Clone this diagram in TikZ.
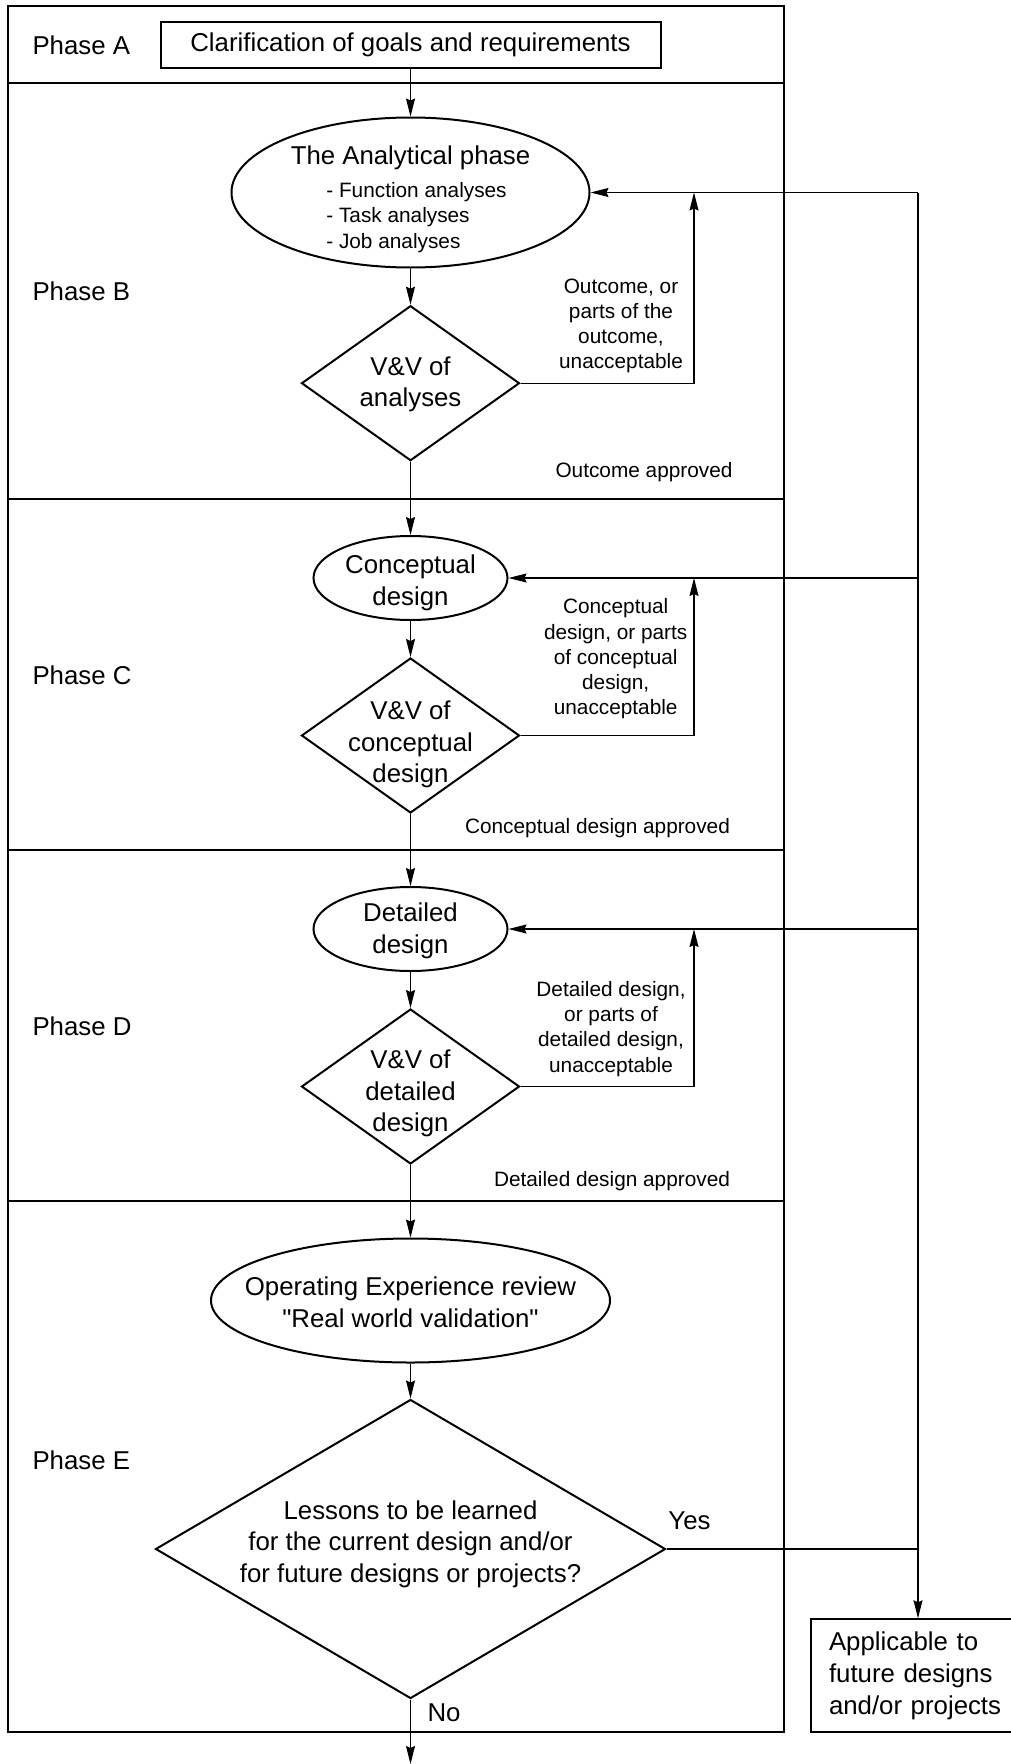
\documentclass[tikz,border=0pt]{standalone}
\usepackage{fontspec}
\setmainfont{Liberation Sans}[Ligatures=TeXOff]
\usepackage{tikz}
\usetikzlibrary{positioning,arrows.meta,shapes.geometric,calc}
\newcommand{\bigsz}{\fontsize{25.8}{31.6}\selectfont}
\newcommand{\smallsz}{\fontsize{20.8}{25.2}\selectfont}
\tikzset{pbox/.style={rectangle, draw, line width=2pt, inner sep=0pt, align=center, font=\bigsz}}
\tikzset{pell/.style={ellipse, draw, line width=2pt, inner sep=0pt}}
\tikzset{pdia/.style={diamond, draw, line width=2pt, inner sep=0pt}}
\tikzset{ptext/.style={font=\bigsz, align=center, inner sep=0pt}}
\tikzset{plabel/.style={font=\smallsz, align=center, inner sep=0pt}}
\tikzset{pphase/.style={font=\bigsz, anchor=west, inner sep=0pt}}
\tikzset{pedge/.style={-{Stealth[length=18pt, width=9pt, inset=2pt]}, line width=1.2pt}}
\tikzset{pline/.style={line width=1.2pt}}
\tikzset{pframe/.style={line width=2pt}}

\begin{document}
\begin{tikzpicture}[x=1pt, y=-1pt]
  \useasboundingbox (0,0) rectangle (1011,1764);

  % phase bands
  \draw[pframe] (8.4,6) rectangle (784,1732);
  \draw[pframe] (8.4,82.7) -- (784,82.7);
  \draw[pframe] (8.4,498.5) -- (784,498.5);
  \draw[pframe] (8.4,850.2) -- (784,850.2);
  \draw[pframe] (8.4,1200.5) -- (784,1200.5);

  \node[pphase] (phaseA) at (32.3,45) {Phase A};
  \node[pphase] (phaseB) at (32.3,291.7) {Phase B};
  \node[pphase] (phaseC) at (32.3,675.2) {Phase C};
  \node[pphase] (phaseD) at (32.3,1026.6) {Phase D};
  \node[pphase] (phaseE) at (32.3,1460) {Phase E};

  \node[pbox, minimum width=500pt, minimum height=45.7pt] (goal) at (410.5,44.8) {Clarification of goals and requirements};
  \node[pell, minimum width=358pt, minimum height=150pt,
        label={[ptext, yshift=35pt]center:The Analytical phase},
        label={[plabel, align=left, xshift=6pt, yshift=-25pt]center:- Function analyses\\- Task analyses\\- Job analyses}] (anal) at (410.5,192.5) {};
  \node[pdia, minimum width=218pt, minimum height=155pt, label={[ptext, yshift=-1pt]center:V\&V of\\analyses}] (vvB) at (410.5,383.2) {};
  \node[pell, minimum width=194pt, minimum height=84pt, label={[ptext, yshift=-5pt]center:Conceptual\\design}] (conc) at (410.5,578) {};
  \node[pdia, minimum width=218pt, minimum height=155pt, label={[ptext, yshift=-9pt]center:V\&V of\\conceptual\\design}] (vvC) at (410.5,735.5) {};
  \node[pell, minimum width=194pt, minimum height=84pt, label={[ptext, yshift=-2pt]center:Detailed\\design}] (det) at (410.5,929) {};
  \node[pdia, minimum width=218pt, minimum height=155pt, label={[ptext, yshift=-7pt]center:V\&V of\\detailed\\design}] (vvD) at (410.5,1086.5) {};
  \node[pell, minimum width=399pt, minimum height=124pt, label={[ptext, yshift=-2pt]center:Operating Experience review\\"Real world validation"}] (oer) at (410.5,1300.5) {};
  \node[pdia, minimum width=510pt, minimum height=299pt, label={[ptext, yshift=5pt]center:Lessons to be learned\\for the current design and/or\\for future designs or projects?}] (lessons) at (410.5,1549) {};
  \node[pbox, text width=178pt, inner xsep=18pt, minimum height=113pt, align=left] (appl) at (918,1675.8) {Applicable to\\future designs\\and/or projects};

  \node[plabel] (failB) at (621,326) {Outcome, or\\parts of the\\outcome,\\unacceptable};
  \node[plabel] (passB) at (644,472.5) {Outcome approved};
  \node[plabel] (failC) at (615.7,659) {Conceptual\\design, or parts\\of conceptual\\design,\\unacceptable};
  \node[plabel] (passC) at (597.5,828.5) {Conceptual design approved};
  \node[plabel] (failD) at (611,1029) {Detailed design,\\or parts of\\detailed design,\\unacceptable};
  \node[plabel] (passD) at (612,1181.5) {Detailed design approved};
  \node[ptext] (yes) at (689.5,1520.5) {Yes};
  \node[ptext] (no) at (444,1712.5) {No};

  \coordinate (backB) at (694,192.5);
  \coordinate (backC) at (694,578);
  \coordinate (backD) at (694,929);
  \coordinate (sideB) at (918,192.5);
  \coordinate (sideC) at (918,578);
  \coordinate (sideD) at (918,929);
  \coordinate (sideE) at (918,1549);
  \coordinate (exit) at (410.5,1764);

  \draw[pedge] (goal) -- (anal);
  \draw[pedge] (anal) -- (vvB);
  \draw[pedge] (vvB) -- (conc);
  \draw[pedge] (conc) -- (vvC);
  \draw[pedge] (vvC) -- (det);
  \draw[pedge] (det) -- (vvD);
  \draw[pedge] (vvD) -- (oer);
  \draw[pedge] (oer) -- (lessons);
  \draw[pedge] (lessons) -- (exit);

  % loops back for rework
  \draw[pedge] (vvB.east) -| (backB);
  \draw[pedge] (vvC.east) -| (backC);
  \draw[pedge] (vvD.east) -| (backD);
  \draw[pedge] (sideB) -- (anal.east);
  \draw[pedge] (sideC) -- (conc.east);
  \draw[pedge] (sideD) -- (det.east);
  \draw[pline] (lessons.east) -- (sideE);
  \draw[pedge] (sideB) -- (appl);
\end{tikzpicture}
\end{document}
